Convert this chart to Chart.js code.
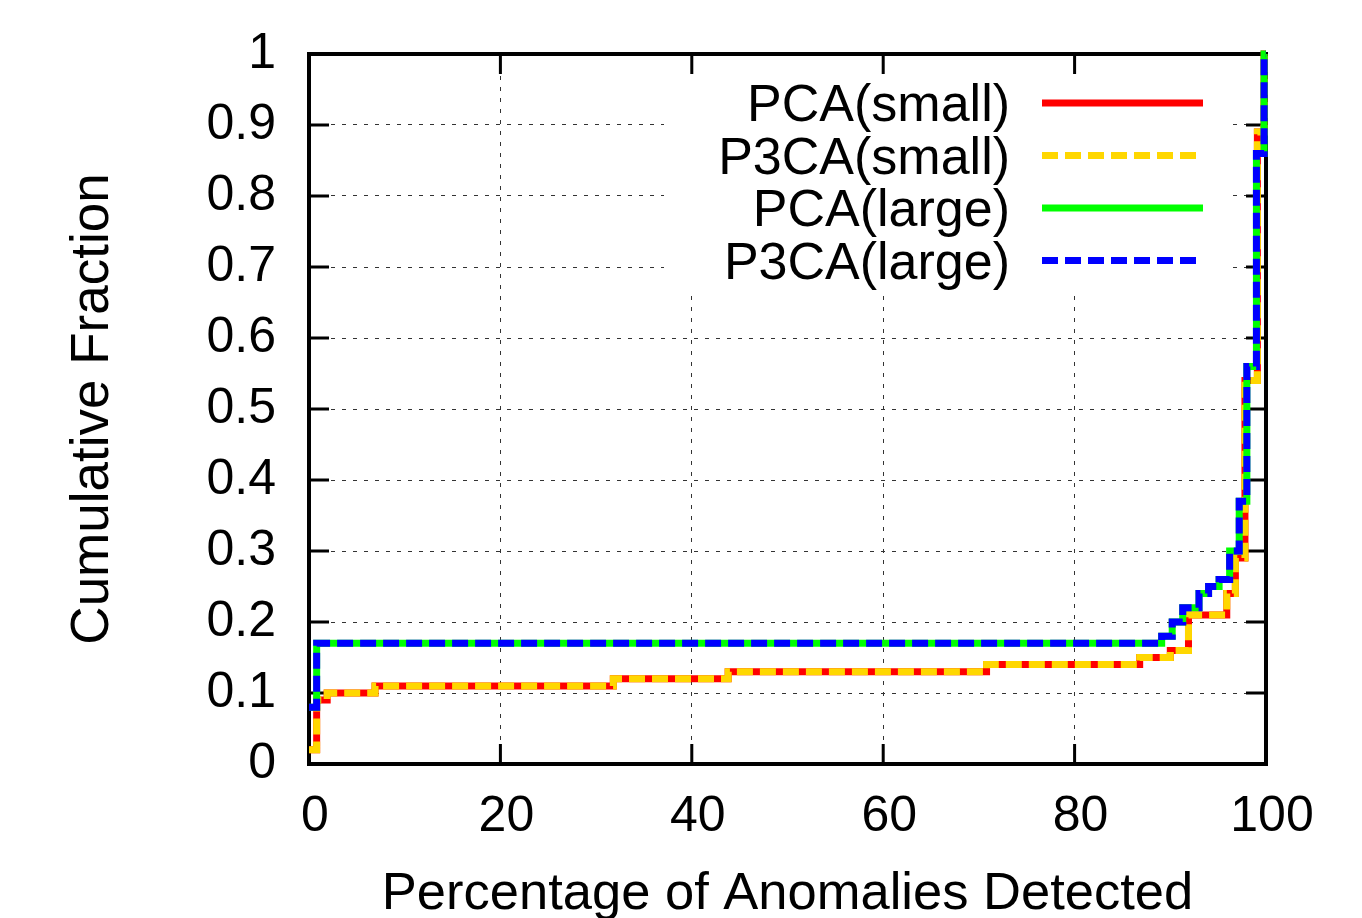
<!DOCTYPE html>
<html>
<head>
<meta charset="utf-8">
<title>Cumulative Fraction of Anomalies Detected</title>
<script src="https://cdn.jsdelivr.net/npm/chart.js@4.4.0/dist/chart.umd.min.js"></script>
<style>
  html, body { margin: 0; padding: 0; background: #fff; }
  #wrap { width: 1362px; height: 918px; }
</style>
</head>
<body>
<div id="wrap"><canvas id="cdf" width="1362" height="918"></canvas></div>
<script>
// legend / series
const seriesNames = ['PCA(small)', 'P3CA(small)', 'PCA(large)', 'P3CA(large)'];
const seriesColors = ['#ff0000', '#ffd700', '#00ff00', '#0000ff'];
const seriesDashed = [false, true, false, true];

// step points (x = % anomalies detected, y = cumulative fraction)
// PCA and P3CA give the same curve for each traffic size
const pcaSmallX  = [0, 0.8, 1.9, 6.9, 31.8, 43.8, 70.8, 86.8, 90.0, 91.9, 95.9, 96.8, 97.8, 99.1, 99.8, 100];
const pcaSmallY  = [0.02, 0.09, 0.10, 0.11, 0.12, 0.13, 0.14, 0.15, 0.16, 0.21, 0.24, 0.29, 0.54, 0.89, 1.0, 1.0];
const p3caSmallX = [0, 0.8, 1.9, 6.9, 31.8, 43.8, 70.8, 86.8, 90.0, 91.9, 95.9, 96.8, 97.8, 99.1, 99.8, 100];
const p3caSmallY = [0.02, 0.09, 0.10, 0.11, 0.12, 0.13, 0.14, 0.15, 0.16, 0.21, 0.24, 0.29, 0.54, 0.89, 1.0, 1.0];
const pcaLargeX  = [0, 0.8, 89.1, 90.2, 91.3, 93.0, 94.0, 95.1, 96.2, 97.2, 98.0, 99.0, 99.8, 100];
const pcaLargeY  = [0.08, 0.17, 0.18, 0.20, 0.22, 0.24, 0.25, 0.26, 0.30, 0.37, 0.56, 0.86, 1.0, 1.0];
const p3caLargeX = [0, 0.8, 89.1, 90.2, 91.3, 93.0, 94.0, 95.1, 96.2, 97.2, 98.0, 99.0, 99.8, 100];
const p3caLargeY = [0.08, 0.17, 0.18, 0.20, 0.22, 0.24, 0.25, 0.26, 0.30, 0.37, 0.56, 0.86, 1.0, 1.0];

const xTicks = [0, 20, 40, 60, 80, 100];
const yTicks = [0, 0.1, 0.2, 0.3, 0.4, 0.5, 0.6, 0.7, 0.8, 0.9, 1];

const FONT = "'Liberation Sans', Arial, sans-serif";
const DASH = [16, 7];

function pts(xs, ys){ return xs.map((x, i) => ({ x: x, y: ys[i] })); }

const allX = [pcaSmallX, p3caSmallX, pcaLargeX, p3caLargeX];
const allY = [pcaSmallY, p3caSmallY, pcaLargeY, p3caLargeY];

const datasets = seriesNames.map((name, i) => ({
  label: name,
  data: pts(allX[i], allY[i]),
  borderColor: seriesColors[i],
  borderWidth: 7,
  borderDash: seriesDashed[i] ? DASH : [],
  borderCapStyle: 'butt',
  borderJoinStyle: 'miter',
  stepped: 'before',
  pointRadius: 0,
  fill: false,
  clip: 6,
  order: 4 - i   // later series on top, like gnuplot
}));

// frame, inner tick marks and the opaque key box
const framePlugin = {
  id: 'frame',
  beforeDatasetsDraw(chart){
    const { ctx, chartArea: a, scales } = chart;
    const xs = scales.x, ys = scales.y;
    ctx.save();

    // key box hides the grid behind it
    ctx.fillStyle = '#fff';
    ctx.fillRect(a.left + 355, a.top + 2, 568, 236);

    // tick marks, mirrored on all sides
    ctx.strokeStyle = '#000';
    ctx.lineWidth = 3;
    ctx.setLineDash([]);
    ctx.beginPath();
    yTicks.slice(1, -1).forEach(v => {
      const py = ys.getPixelForValue(v);
      ctx.moveTo(a.left, py); ctx.lineTo(a.left + 20, py);
      ctx.moveTo(a.right, py); ctx.lineTo(a.right - 20, py);
    });
    xTicks.slice(1, -1).forEach(v => {
      const px = xs.getPixelForValue(v);
      ctx.moveTo(px, a.bottom); ctx.lineTo(px, a.bottom - 20);
      ctx.moveTo(px, a.top); ctx.lineTo(px, a.top + 20);
    });
    ctx.stroke();

    // border
    ctx.lineWidth = 4;
    ctx.strokeRect(a.left, a.top, a.right - a.left, a.bottom - a.top);

    // key
    ctx.font = '52px ' + FONT;
    ctx.textAlign = 'right';
    ctx.textBaseline = 'alphabetic';
    seriesNames.forEach((name, i) => {
      const rowY = a.top + 49 + i * 52.5;
      ctx.fillStyle = '#000';
      ctx.fillText(name, a.left + 701, rowY + 18);
      ctx.strokeStyle = seriesColors[i];
      ctx.lineWidth = 7;
      ctx.lineCap = 'butt';
      ctx.setLineDash(seriesDashed[i] ? DASH : []);
      ctx.beginPath();
      ctx.moveTo(a.left + 733, rowY);
      ctx.lineTo(a.left + 894, rowY);
      ctx.stroke();
    });
    ctx.restore();
  }
};

new Chart(document.getElementById('cdf').getContext('2d'), {
  type: 'line',
  data: { datasets },
  options: {
    responsive: false,
    animation: false,
    events: [],
    layout: { padding: { top: 54, right: 96, left: 0, bottom: 0 } },
    plugins: { legend: { display: false }, tooltip: { enabled: false } },
    scales: {
      x: {
        type: 'linear',
        min: 0, max: 100,
        afterFit: s => { s.height = 154; },
        grid: { color: '#333', lineWidth: 1, drawTicks: false },
        border: { display: false, dash: [4, 7] },
        ticks: {
          stepSize: 20,
          padding: 23,
          labelOffset: 6,
          color: '#000',
          font: { family: FONT, size: 50 },
          maxRotation: 0,
          callback: v => xTicks.includes(v) ? String(v) : ''
        },
        title: {
          display: true,
          text: 'Percentage of Anomalies Detected',
          color: '#000',
          font: { family: FONT, size: 52.5, lineHeight: 0.88 },
          padding: 0
        }
      },
      y: {
        min: 0, max: 1,
        afterFit: s => { s.width = 309; },
        grid: { color: '#333', lineWidth: 1, drawTicks: false },
        border: { display: false, dash: [4, 7] },
        ticks: {
          stepSize: 0.1,
          padding: 33,
          color: '#000',
          font: { family: FONT, size: 50, lineHeight: 0.8 },
          callback: v => String(Number(v.toFixed(1)))
        },
        title: {
          display: true,
          text: 'Cumulative Fraction',
          color: '#000',
          font: { family: FONT, size: 53, lineHeight: 1 },
          padding: { top: 67, bottom: 0 }
        }
      }
    }
  },
  plugins: [framePlugin]
});
</script>
</body>
</html>
